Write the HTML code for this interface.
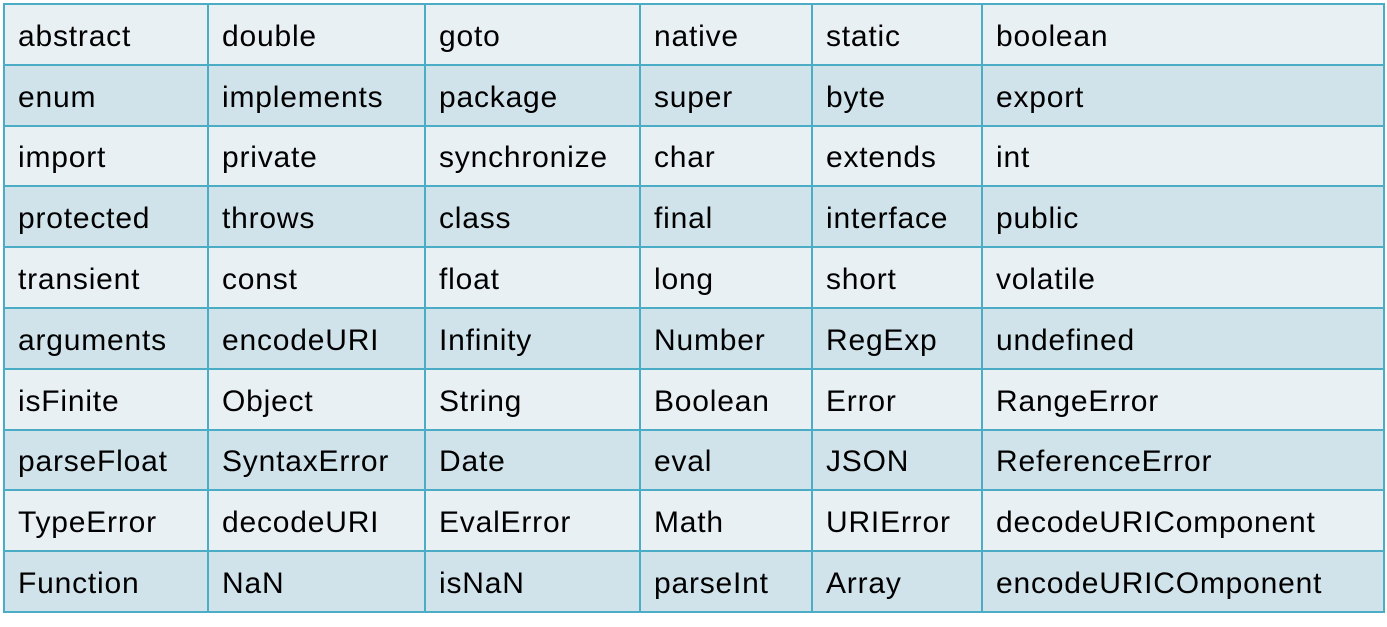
<!DOCTYPE html>
<html><head><style>
body{margin:0;background:#fff;width:1387px;height:627px;overflow:hidden}
table{position:absolute;left:3px;top:3px;border-collapse:collapse;table-layout:fixed;font-family:"Liberation Sans",sans-serif;font-size:30px;color:#000}
td{border:2px solid #4bacc6;height:58.8px;padding:5px 0 0 13px;box-sizing:border-box;white-space:nowrap;overflow:hidden;letter-spacing:0.8px}
tr{height:60.8px}
tr:nth-child(odd) td{background:#e9f0f4}
tr:nth-child(even) td{background:#d0e2ea}
</style></head><body>
<table>
<colgroup><col style="width:204px"><col style="width:217px"><col style="width:215px"><col style="width:172px"><col style="width:170px"><col style="width:402px"></colgroup>
<tr><td>abstract</td><td>double</td><td>goto</td><td>native</td><td>static</td><td>boolean</td></tr>
<tr><td>enum</td><td>implements</td><td>package</td><td>super</td><td>byte</td><td>export</td></tr>
<tr><td>import</td><td>private</td><td>synchronize</td><td>char</td><td>extends</td><td>int</td></tr>
<tr><td>protected</td><td>throws</td><td>class</td><td>final</td><td>interface</td><td>public</td></tr>
<tr><td>transient</td><td>const</td><td>float</td><td>long</td><td>short</td><td>volatile</td></tr>
<tr><td>arguments</td><td>encodeURI</td><td>Infinity</td><td>Number</td><td>RegExp</td><td>undefined</td></tr>
<tr><td>isFinite</td><td>Object</td><td>String</td><td>Boolean</td><td>Error</td><td>RangeError</td></tr>
<tr><td>parseFloat</td><td>SyntaxError</td><td>Date</td><td>eval</td><td>JSON</td><td>ReferenceError</td></tr>
<tr><td>TypeError</td><td>decodeURI</td><td>EvalError</td><td>Math</td><td>URIError</td><td>decodeURIComponent</td></tr>
<tr><td>Function</td><td>NaN</td><td>isNaN</td><td>parseInt</td><td>Array</td><td>encodeURICOmponent</td></tr>
</table>
</body></html>
